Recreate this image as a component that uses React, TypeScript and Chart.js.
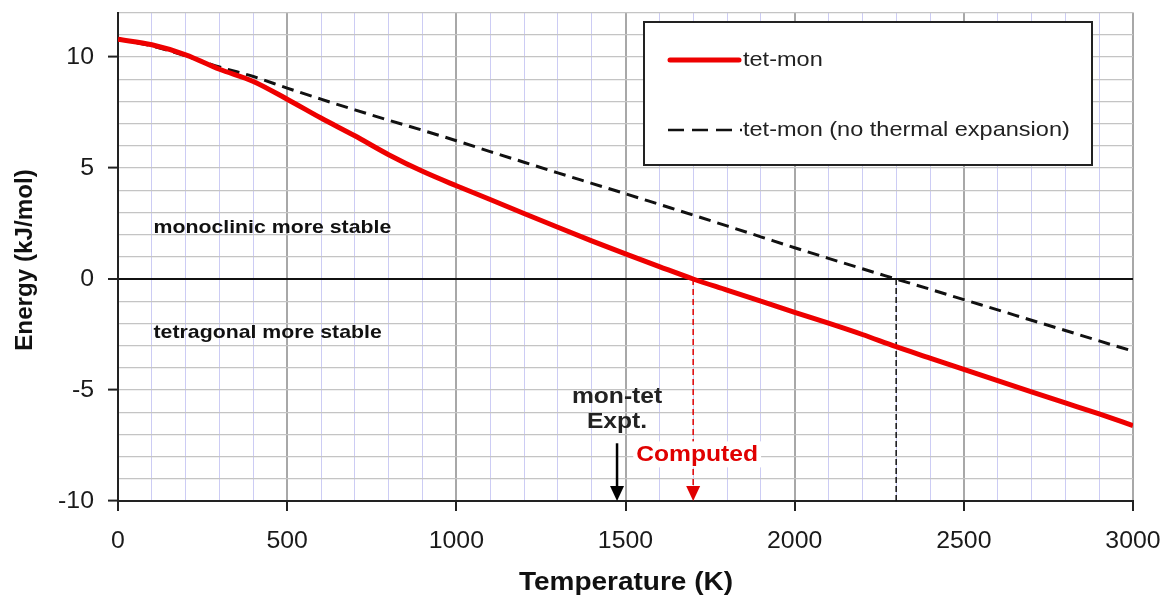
import { useEffect, useRef } from 'react';
import { Chart, registerables } from 'chart.js';

Chart.register(...registerables);

const temps = [0, 100, 200, 300, 400, 500, 600, 700, 800, 900, 1000, 1100, 1200, 1300, 1400, 1500, 1600, 1700, 1800, 1900, 2000, 2100, 2200, 2300, 2400, 2500, 2600, 2700, 2800, 2900, 3000];
const tetMon = [10.8, 10.55, 10.1, 9.45, 8.9, 8.1, 7.25, 6.45, 5.6, 4.85, 4.2, 3.58, 2.95, 2.33, 1.72, 1.13, 0.56, 0, -0.5, -1.0, -1.5, -1.99, -2.5, -3.05, -3.56, -4.07, -4.58, -5.08, -5.58, -6.08, -6.6];
const tetMonNoExp = [10.8, 10.5, 10.05, 9.55, 9.12, 8.6, 8.1, 7.62, 7.15, 6.7, 6.23, 5.74, 5.26, 4.78, 4.31, 3.84, 3.36, 2.88, 2.39, 1.9, 1.41, 0.93, 0.46, 0, -0.46, -0.93, -1.39, -1.86, -2.32, -2.79, -3.25];

const computedT = 1700;
const noExpT = 2300;
const exptT = 1475;

const xMajor = [0, 500, 1000, 1500, 2000, 2500, 3000];
const yMajor = [-10, -5, 0, 5, 10];

const seriesNames = ['tet-mon', 'tet-mon (no thermal expansion)'];
const regionLabels = [
  { text: 'monoclinic more stable', x: 105, y: 2.3 },
  { text: 'tetragonal more stable', x: 105, y: -2.4 },
];
const xTitle = 'Temperature (K)';
const yTitle = 'Energy (kJ/mol)';

const FONT = '"Liberation Sans", Arial, sans-serif';
const SX = 1.12;

function sText(ctx: CanvasRenderingContext2D, text: string, x: number, y: number, sx = SX) {
  ctx.save();
  ctx.translate(x, y);
  ctx.scale(sx, 1);
  ctx.fillText(text, 0, 0);
  ctx.restore();
}

export default function App() {
  const ref = useRef<HTMLCanvasElement>(null);
  useEffect(() => {
    const canvas = ref.current!;
    const overlay = {
      id: 'overlay',
      afterDatasetsDraw(chart: any) {
        const ctx: CanvasRenderingContext2D = chart.ctx;
        const xs = chart.scales.x;
        const ys = chart.scales.y;
        ctx.save();
        // tick labels
        ctx.fillStyle = '#1a1a1a';
        ctx.font = `23px ${FONT}`;
        ctx.textBaseline = 'middle';
        ctx.textAlign = 'center';
        for (const v of xMajor) sText(ctx, String(v), xs.getPixelForValue(v), 542, 1.08);
        ctx.textAlign = 'right';
        for (const v of yMajor) sText(ctx, String(v), 94, ys.getPixelForValue(v) + 1, 1.08);
        // region labels
        ctx.fillStyle = '#111';
        ctx.font = `bold 19px ${FONT}`;
        ctx.textAlign = 'left';
        for (const r of regionLabels) {
          sText(ctx, r.text, xs.getPixelForValue(r.x), ys.getPixelForValue(r.y));
        }
        // expt label + arrow
        const ex = xs.getPixelForValue(exptT);
        ctx.textAlign = 'center';
        ctx.font = `bold 22px ${FONT}`;
        ctx.fillStyle = '#222';
        sText(ctx, 'mon-tet', ex, ys.getPixelForValue(-5.3));
        sText(ctx, 'Expt.', ex, ys.getPixelForValue(-6.45));
        const yb = ys.getPixelForValue(-10);
        ctx.strokeStyle = '#000';
        ctx.lineWidth = 2.5;
        ctx.beginPath();
        ctx.moveTo(ex, ys.getPixelForValue(-7.4));
        ctx.lineTo(ex, yb - 10);
        ctx.stroke();
        ctx.fillStyle = '#000';
        ctx.beginPath();
        ctx.moveTo(ex - 7, yb - 15);
        ctx.lineTo(ex + 7, yb - 15);
        ctx.lineTo(ex, yb);
        ctx.closePath();
        ctx.fill();
        // computed
        const cx = xs.getPixelForValue(computedT);
        ctx.fillStyle = '#e00000';
        ctx.beginPath();
        ctx.moveTo(cx - 7, yb - 15);
        ctx.lineTo(cx + 7, yb - 15);
        ctx.lineTo(cx, yb);
        ctx.closePath();
        ctx.fill();
        ctx.font = `bold 22px ${FONT}`;
        const cy = ys.getPixelForValue(-7.9);
        const w = ctx.measureText('Computed').width * SX;
        ctx.fillStyle = '#fff';
        ctx.fillRect(cx + 4 - w / 2 - 3, cy - 13, w + 6, 26);
        ctx.fillStyle = '#e00000';
        sText(ctx, 'Computed', cx + 4, cy + 1);
        // legend
        ctx.fillStyle = '#fff';
        ctx.fillRect(644, 22, 448, 143);
        ctx.strokeStyle = '#222';
        ctx.lineWidth = 2;
        ctx.strokeRect(644, 22, 448, 143);
        ctx.strokeStyle = '#ee0000';
        ctx.lineWidth = 5;
        ctx.lineCap = 'round';
        ctx.beginPath();
        ctx.moveTo(670, 60);
        ctx.lineTo(739, 60);
        ctx.stroke();
        ctx.lineCap = 'butt';
        ctx.strokeStyle = '#111';
        ctx.lineWidth = 2.5;
        ctx.setLineDash([16, 8]);
        ctx.beginPath();
        ctx.moveTo(668, 130);
        ctx.lineTo(742, 130);
        ctx.stroke();
        ctx.setLineDash([]);
        ctx.fillStyle = '#222';
        ctx.font = `21px ${FONT}`;
        ctx.textAlign = 'left';
        sText(ctx, seriesNames[0], 743, 60);
        sText(ctx, seriesNames[1], 743, 130);
        // axis titles
        ctx.fillStyle = '#111';
        ctx.font = `bold 25px ${FONT}`;
        ctx.textAlign = 'center';
        sText(ctx, xTitle, 626, 583);
        ctx.font = `bold 22px ${FONT}`;
        ctx.translate(25, 260);
        ctx.rotate(-Math.PI / 2);
        ctx.scale(1.1, 1.1);
        ctx.fillText(yTitle, 0, 0);
        ctx.restore();
      },
    };

    const chart = new Chart(canvas, {
      type: 'line',
      data: {
        datasets: [
          {
            label: seriesNames[0],
            data: temps.map((t, i) => ({ x: t, y: tetMon[i] })),
            borderColor: '#ee0000',
            borderWidth: 5,
            pointRadius: 0,
            cubicInterpolationMode: 'monotone',
          },
          {
            label: seriesNames[1],
            data: temps.map((t, i) => ({ x: t, y: tetMonNoExp[i] })),
            borderColor: '#111',
            borderWidth: 3,
            borderDash: [12, 7],
            pointRadius: 0,
            cubicInterpolationMode: 'monotone',
          },
          {
            label: 'computed',
            data: [{ x: computedT, y: 0 }, { x: computedT, y: -9.4 }],
            borderColor: '#e00000',
            borderWidth: 1.5,
            borderDash: [6, 4],
            pointRadius: 0,
          },
          {
            label: 'noexp',
            data: [{ x: noExpT, y: 0 }, { x: noExpT, y: -10 }],
            borderColor: '#111',
            borderWidth: 1.5,
            borderDash: [6, 3],
            pointRadius: 0,
          },
        ],
      },
      options: {
        animation: false,
        responsive: false,
        maintainAspectRatio: false,
        layout: { padding: { top: 12.6, right: 32, left: 0, bottom: 0 } },
        plugins: { legend: { display: false }, tooltip: { enabled: false } },
        scales: {
          x: {
            type: 'linear',
            min: 0,
            max: 3000,
            afterFit: (s: any) => { s.height = 98; },
            border: { color: '#222', width: 2 },
            grid: {
              color: (c: any) => (c.tick && c.tick.value % 500 === 0 ? '#a8a8a8' : '#ccccf4'),
              lineWidth: (c: any) => (c.tick && c.tick.value % 500 === 0 ? 2 : 1),
              tickColor: (c: any) => (c.tick && c.tick.value % 500 === 0 ? '#222' : 'rgba(0,0,0,0)'),
              tickLength: 10,
              tickWidth: 2,
            },
            ticks: { stepSize: 100, autoSkip: false, display: false },
          },
          y: {
            type: 'linear',
            min: -10,
            max: 12,
            afterFit: (s: any) => { s.width = 118; },
            border: { color: '#222', width: 2 },
            grid: {
              color: (c: any) => (c.tick && c.tick.value === 0 ? '#111' : '#c4c4c4'),
              lineWidth: (c: any) => (c.tick && c.tick.value === 0 ? 2 : 1.2),
              tickColor: (c: any) => (c.tick && c.tick.value % 5 === 0 && c.tick.value <= 10 ? '#222' : 'rgba(0,0,0,0)'),
              tickLength: 10,
              tickWidth: 2,
            },
            ticks: { stepSize: 1, autoSkip: false, display: false },
          },
        },
      },
      plugins: [overlay],
    });
    return () => chart.destroy();
  }, []);
  return (
    <div style={{ position: 'absolute', left: 0, top: 0, width: 1165, height: 599, background: '#fff' }}>
      <canvas ref={ref} width={1165} height={599} style={{ display: 'block' }} />
    </div>
  );
}
